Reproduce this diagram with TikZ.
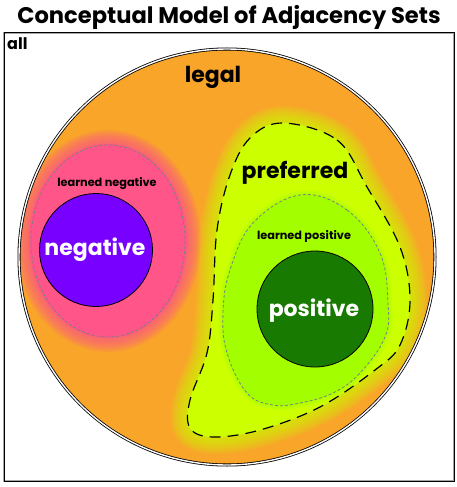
\documentclass[tikz,border=0pt]{standalone}
\usepackage{fontspec}
\setmainfont{Poppins}
\usetikzlibrary{positioning}
\definecolor{legalorange}{HTML}{F9A52A}
\definecolor{negpink}{HTML}{FF5589}
\definecolor{negviolet}{HTML}{7700FF}
\definecolor{preflime}{HTML}{CCFF00}
\definecolor{posgreen}{HTML}{A3FF00}
\definecolor{posdark}{HTML}{187A00}

% outlines of the two soft regions
\def\prefpath{plot[smooth cycle, tension=0.6] coordinates {(283,123) (337,140) (367,187) (400,247) (410,300) (400,345) (375,370) (320,407) (260,430) (213,437) (190,428) (190,400) (207,353) (213,300) (217,230) (230,175) (250,138)}}
\def\lposPath{plot[smooth cycle, tension=0.65] coordinates {(300,195) (347,210) (380,253) (388,303) (385,337) (360,373) (333,393) (300,403) (273,405) (247,393) (227,353) (223,313) (230,270) (253,223)}}

\begin{document}
\begin{tikzpicture}[x=1pt, y=-1pt,
    bigtext/.style={font=\bfseries\fontsize{22}{22}\selectfont, inner sep=0pt},
    smalltext/.style={font=\bfseries\fontsize{11.3}{11.3}\selectfont, inner sep=0pt},
    setcircle/.style={draw=black, line width=0.8pt},
    learned/.style={draw=gray, dash pattern=on 3pt off 2pt, line width=0.8pt},
]
    \useasboundingbox (0,0) rectangle (457,487);
    \node[font=\bfseries\fontsize{22.6}{22.6}\selectfont, inner sep=0pt] (title) at (229,17) {Conceptual Model of Adjacency Sets};
    % universe
    \draw[gray!70, line width=2pt] (4,33) rectangle (454,481);
    \draw[black, line width=1pt] (4,33) rectangle (454,481);
    \node[font=\bfseries\fontsize{16}{16}\selectfont, inner sep=0pt, anchor=north west] (all) at (7,37) {all};
    % legal
    \fill[legalorange] (227,257) circle (208);
    \begin{scope}
        \clip (227,257) circle (208);
        % learned negative
        \foreach \w in {30,27,24,21,18,15,12,9,6,3}
            \draw[negpink, line width=\w pt, opacity=0.12] (108,241) ellipse (78 and 96);
        \fill[negpink] (108,241) ellipse (79 and 97);
        % preferred
        \foreach \w in {34,30,26,22,18,14,10,6,2}
            \draw[preflime, line width=\w pt, opacity=0.12, line join=round] \prefpath;
        \fill[preflime] \prefpath;
        % learned positive
        \foreach \w in {8,5,2}
            \draw[posgreen, line width=\w pt, opacity=0.3, line join=round] \lposPath;
        \fill[posgreen] \lposPath;
    \end{scope}
    \draw[black, line width=0.8pt, double=white, double distance=1.4pt] (227,257) circle (208);
    \draw[learned] (108,241) ellipse (77 and 96);
    \draw[learned] \lposPath;
    \draw[black, line width=1.2pt, dash pattern=on 11pt off 7pt] \prefpath;
    % hard sets
    \draw[setcircle, fill=negviolet] (96,250) circle (56.5);
    \draw[setcircle, fill=posdark] (315,309) circle (58);
    % labels
    \node[bigtext] (legal) at (213,77) {legal};
    \node[bigtext] (preferred) at (295,173) {preferred};
    \node[bigtext, text=white] (negative) at (95,250) {negative};
    \node[bigtext, text=white] (positive) at (314,311) {positive};
    \node[smalltext] (lneg) at (107,184) {learned negative};
    \node[smalltext] (lpos) at (304,236) {learned positive};
\end{tikzpicture}
\end{document}
